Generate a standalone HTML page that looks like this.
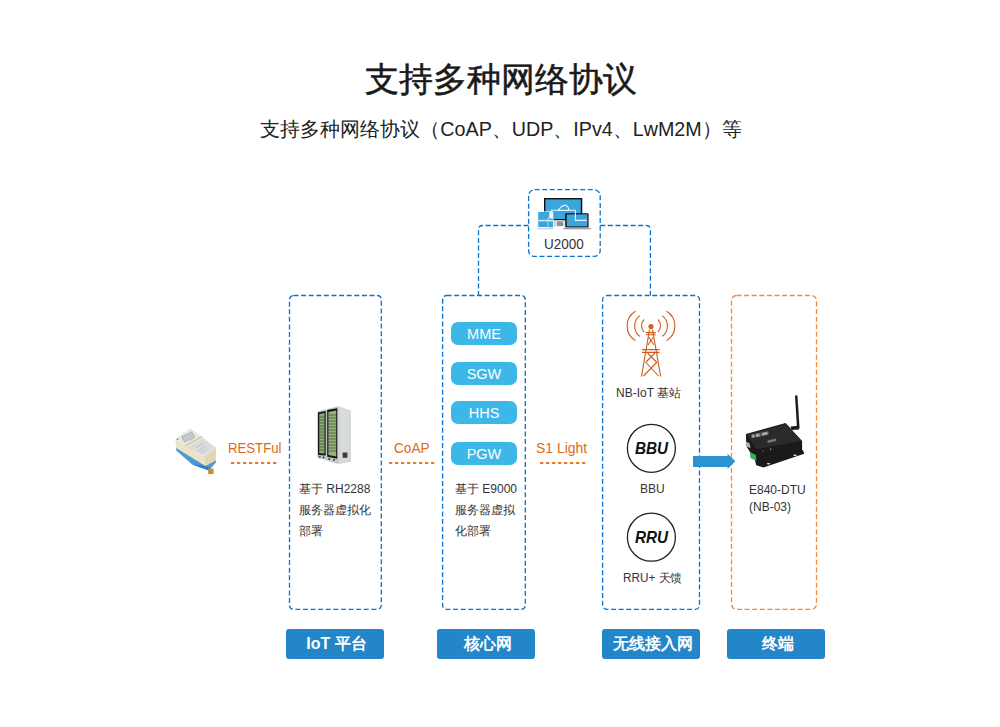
<!DOCTYPE html>
<html>
<head>
<meta charset="utf-8">
<style>
html,body{margin:0;padding:0;background:#fff;}
body{width:1000px;height:727px;position:relative;overflow:hidden;font-family:"Liberation Sans",sans-serif;color:#222;}
.t{position:absolute;white-space:nowrap;line-height:1;}
#title{left:1px;width:1000px;top:62.5px;text-align:center;font-size:33.6px;font-weight:normal;color:#1a1a1a;-webkit-text-stroke:0.5px #1a1a1a;}
#sub{left:1px;width:1000px;top:119.8px;text-align:center;font-size:19.7px;color:#222;}
.lbl{position:absolute;top:629px;height:30px;background:#2386c8;border-radius:3px;color:#fff;font-size:16px;font-weight:bold;text-align:center;line-height:30px;box-sizing:border-box;padding-left:3px;}
.pill{position:absolute;left:451px;width:66px;height:23px;background:#3cb8e8;border-radius:7px;color:#fff;font-size:14.5px;text-align:center;line-height:24.5px;}
.or{color:#dc6b16;font-size:15.5px;transform:scaleX(0.88);transform-origin:0 0;}
.sm{font-size:12px;color:#333;line-height:21px;}
svg{position:absolute;left:0;top:0;}
</style>
</head>
<body>
<div class="t" id="title">支持多种网络协议</div>
<div class="t" id="sub">支持多种网络协议（CoAP、UDP、IPv4、LwM2M）等</div>

<svg width="1000" height="727" viewBox="0 0 1000 727">
  <g fill="none" stroke="#0a72cc" stroke-width="1.3" stroke-dasharray="5 2.6">
    <rect x="289.5" y="295.5" width="91.8" height="313.8" rx="4"/>
    <rect x="442.6" y="295.5" width="82.7" height="313.8" rx="4"/>
    <rect x="602.6" y="295.5" width="96.9" height="313.8" rx="4"/>
    <rect x="528.6" y="189.7" width="71.6" height="66.7" rx="6"/>
    <path d="M528.6 225.5 H482.5 Q478.5 225.5 478.5 229.5 V295.5"/>
    <path d="M600.2 225.5 H646.4 Q650.4 225.5 650.4 229.5 V295.5"/>
  </g>
  <rect x="731.5" y="295.5" width="85" height="313.8" rx="5" fill="none" stroke="#f08a3c" stroke-width="1.3" stroke-dasharray="5 2.6"/>
  <g stroke="#e8782a" stroke-width="2" stroke-dasharray="3.3 2.7">
    <path d="M231 463 H278"/>
    <path d="M389 463 H435"/>
    <path d="M540 463 H587"/>
  </g>

  <!-- U2000 icon -->
  <g id="u2000">
    <rect x="544" y="198" width="38.3" height="22.4" fill="#111"/>
    <rect x="545.4" y="199.4" width="35.4" height="19.6" fill="#3aa6dc"/>
    <rect x="553.8" y="220.4" width="10.8" height="6" fill="#d6d8da"/>
    <rect x="557" y="221.5" width="6" height="4.5" fill="#8c9094"/>
    <rect x="537.6" y="211.4" width="15.6" height="16.2" fill="#f2f6f8"/>
    <rect x="538.2" y="212" width="11" height="15" fill="#3aa6dc"/>
    <rect x="548" y="218" width="5.2" height="9.6" fill="#3aa6dc" stroke="#eaf4fa" stroke-width="0.6"/>
    <rect x="538.2" y="219.8" width="15" height="1.6" fill="#cfe8f4"/>
    <rect x="537.2" y="228" width="16.5" height="1.2" fill="#cfd3d6"/>
    <rect x="565.2" y="213.2" width="23.4" height="14.4" rx="1" fill="#111"/>
    <rect x="566.7" y="214.4" width="20.7" height="12" fill="#3aa6dc"/>
    <rect x="563.4" y="227.8" width="27.3" height="1.5" fill="#9a9ea2"/>
    <path d="M551.5 218.6 V210.2 H558 M568.8 210.2 H575.4 V220.4 H587" fill="none" stroke="#e6f3fa" stroke-width="1.1" stroke-linejoin="round"/>
    <path d="M558 210.4 L561 207.2 Q563.5 204.6 566 205.6 Q568.5 206.6 569 210.4 Z" fill="none" stroke="#e6f3fa" stroke-width="1.1" stroke-linejoin="round"/>
  </g>
  <!-- server -->
  <g id="server">
    <polygon points="338.2,406.3 350.8,410.6 350.8,461.7 338.2,464.1" fill="#d2d3d5"/>
    <polygon points="340,407.5 349,410.6 349,460.8 340,462.5" fill="#d9dadc"/>
    <polygon points="317.3,411.6 338.2,406.3 338.2,464.1 317.3,457.8" fill="#c4c6c8"/>
    <polygon points="318,412.5 325.7,411.1 325.7,455.4 318,454.9" fill="#141814"/>
    <polygon points="327.2,410.1 337.3,408.2 337.3,458.8 327.2,456.8" fill="#141814"/>
    <polygon points="319.3,414 324.5,413 324.5,453.5 319.3,453.2" fill="#8cab74"/>
    <polygon points="328.4,412 336.2,410.4 336.2,456.5 328.4,455" fill="#94b47c"/>
    <g stroke="#3a4832" stroke-width="0.7">
      <path d="M319.3 417 H324.5 M319.3 420 H324.5 M319.3 423 H324.5 M319.3 426 H324.5 M319.3 429 H324.5 M319.3 432 H324.5 M319.3 435 H324.5 M319.3 438 H324.5 M319.3 441 H324.5 M319.3 444 H324.5 M319.3 447 H324.5 M319.3 450 H324.5"/>
      <path d="M328.4 415 H336.2 M328.4 418 H336.2 M328.4 421 H336.2 M328.4 424 H336.2 M328.4 427 H336.2 M328.4 430 H336.2 M328.4 433 H336.2 M328.4 436 H336.2 M328.4 439 H336.2 M328.4 442 H336.2 M328.4 445 H336.2 M328.4 448 H336.2 M328.4 451 H336.2"/>
    </g>
    <rect x="342.6" y="452.5" width="4.8" height="5.3" fill="#3a3c3e"/>
    <circle cx="319.8" cy="456.8" r="0.9" fill="#222"/><circle cx="323.6" cy="457.3" r="0.9" fill="#222"/>
    <circle cx="329.2" cy="459" r="0.9" fill="#222"/><circle cx="334" cy="459.8" r="0.9" fill="#222"/>
  </g>
  <!-- water meter -->
  <g id="meter">
    <polygon points="176.2,447.5 205.5,465.5 215.9,459.5 215.9,462.6 208.8,470.4 192.3,464.6 176.2,450.6" fill="#4a9ad8"/>
    <polygon points="192.3,464.6 208.8,470.4 211,468.6 205.5,466" fill="#3478c0"/>
    <polygon points="175.4,439.4 203.5,456.8 205.5,465.9 176.2,448.1" fill="#ece3c4"/>
    <polygon points="203.5,456.8 215.9,447.3 215.9,460.5 205.5,465.9" fill="#e1d7b5"/>
    <polygon points="175.4,439.4 190.2,428.3 215.9,447.3 203.5,456.8" fill="#e6e7e5"/>
    <polygon points="181.2,436.4 192,431.6 195.2,437.8 184.4,442.6" fill="#aeb3b8"/>
    <polygon points="182.6,437 191.6,433 193.8,437.4 185,441.6" fill="#c4c9cd"/>
    <polygon points="184.5,445.6 201.5,436 202.8,437 186,446.6" fill="#d8c896"/>
    <polygon points="187.5,447.4 202.5,438.2 214.6,447.4 203.2,455.6" fill="#d9dbdd"/>
    <path d="M196 447.5 L203 443.5 M198 450.5 L205 446.5 M200 453 L207 449" stroke="#a8acb0" stroke-width="0.5"/>
    <circle cx="177.5" cy="439.3" r="0.8" fill="#2a8a9a"/>
    <rect x="208.2" y="468.6" width="5.4" height="5.4" fill="#c8902a"/>
  </g>
  <!-- tower -->
  <g id="tower" fill="none" stroke="#d05a18" stroke-width="1.1">
    <path d="M635.5 311.3 A17 17 0 0 0 635.5 340.6"/>
    <path d="M666.5 311.3 A17 17 0 0 1 666.5 340.6"/>
    <path d="M639.8 315.6 A13 13 0 0 0 639.8 336.4"/>
    <path d="M662.2 315.6 A13 13 0 0 1 662.2 336.4"/>
    <path d="M644 319.5 A9 9 0 0 0 644 332"/>
    <path d="M658 319.5 A9 9 0 0 1 658 332"/>
    <path d="M649.5 329.5 L641.5 376.6 M652.5 329.5 L660.7 376.6"/>
    <path d="M645.9 332.6 H655.8 M645.9 334.8 H655.8 M642 349.6 H659.6 M642 352.4 H659.6"/>
    <path d="M648.5 337 L654 345 M653.5 337 L648 345 M647.5 353 L656.5 362 M655 353 L646 362 M645.5 362 L658.5 376 M657 362 L643.5 376"/>
    <circle cx="651" cy="326.5" r="2.6" fill="#d4601a" stroke="none"/>
  </g>
  <!-- DTU -->
  <g id="dtu">
    <path d="M795 396 Q796.2 394.6 797.4 395.6 L799.6 428.2 L797 428.6 Z" fill="#1a1a1a"/>
    <polygon points="790.5,426.5 798.8,425.8 799.2,429.6 791.5,430" fill="#1a1a1a"/>
    <polygon points="745.9,434.1 785.6,423 802.1,440.9 802.1,449.5 803.5,451.6 804.2,453.8 763.5,467.4 756.3,465.2 754.9,460.2 746.3,445.9" fill="#1a1a1a"/>
    <polygon points="746.6,434.6 785.4,423.8 801.4,441 756.6,449.2" fill="#2a2a2a"/>
    <polygon points="750.6,434.5 768.5,430.9 769.2,434.5 751.3,438.4" fill="#555"/>
    <polygon points="752,435 754.5,434.5 754.6,437.3 752.2,437.8" fill="#a8a8a8"/>
    <polygon points="756,434.1 759.5,433.4 759.6,436.4 756.2,437" fill="#a8a8a8"/>
    <polygon points="762,432.9 767.5,431.8 767.7,434.6 762.2,435.7" fill="#a8a8a8"/>
    <polygon points="749.9,452 755.8,455 756.3,460.9 750.4,458" fill="#3cae5a"/>
    <polygon points="745.6,441.6 749.5,443 750.6,448 746.2,446.5" fill="#b0b0b0"/>
    <rect x="762.5" y="450.4" width="1.3" height="1.1" fill="#e03030"/>
    <rect x="770" y="448.6" width="1.2" height="1.1" fill="#d8e040"/>
    <polygon points="767.5,440.5 776,438.5 776,441 767.5,443" fill="#777"/>
    <ellipse cx="795" cy="455.2" rx="1.8" ry="0.8" fill="#e8e8e8"/>
    <ellipse cx="768.5" cy="463.8" rx="1.8" ry="0.8" fill="#e8e8e8"/>
  </g>
  <!-- arrow -->
  <path d="M693 456 H727.6 V453.8 L735.3 461.3 L727.6 469 V467 H693 Z" fill="#2a93d0"/>
  <!-- circles -->
  <circle cx="651.4" cy="448.3" r="24" fill="none" stroke="#222" stroke-width="1.3"/>
  <circle cx="651.4" cy="537.2" r="24" fill="none" stroke="#222" stroke-width="1.3"/>
</svg>

<div class="t or" style="left:228px;top:440px;transform:scaleX(0.85);">RESTFul</div>
<div class="t or" style="left:394px;top:439.5px;">CoAP</div>
<div class="t or" style="left:536px;top:439.5px;transform:scaleX(0.9);">S1 Light</div>

<div class="pill" style="top:322px;">MME</div>
<div class="pill" style="top:362px;">SGW</div>
<div class="pill" style="top:401px;">HHS</div>
<div class="pill" style="top:442px;">PGW</div>

<div class="t sm" style="left:299px;top:479px;">基于 RH2288<br>服务器虚拟化<br>部署</div>
<div class="t sm" style="left:455px;top:479px;">基于 E9000<br>服务器虚拟<br>化部署</div>

<div class="t" style="left:544px;top:236.3px;font-size:15px;color:#333;transform:scaleX(0.9);transform-origin:0 0;">U2000</div>
<div class="t" style="left:616px;top:387px;font-size:12px;color:#333;">NB-IoT 基站</div>
<div class="t" style="left:640px;top:482.5px;font-size:12px;color:#333;">BBU</div>
<div class="t" style="left:623px;top:571.5px;font-size:12px;color:#333;transform:scaleX(0.98);transform-origin:0 0;">RRU+ 天馈</div>
<div class="t" style="left:635px;top:440.3px;font-size:17px;font-weight:bold;font-style:italic;color:#111;transform:scaleX(0.9);transform-origin:0 0;">BBU</div>
<div class="t" style="left:635px;top:529px;font-size:17px;font-weight:bold;font-style:italic;color:#111;transform:scaleX(0.9);transform-origin:0 0;">RRU</div>
<div class="t sm" style="left:749px;top:481.5px;line-height:17.5px;">E840-DTU<br>(NB-03)</div>

<div class="lbl" style="left:286px;width:98px;">IoT 平台</div>
<div class="lbl" style="left:437px;width:98px;">核心网</div>
<div class="lbl" style="left:602px;width:98px;">无线接入网</div>
<div class="lbl" style="left:727px;width:98px;">终端</div>
</body>
</html>
